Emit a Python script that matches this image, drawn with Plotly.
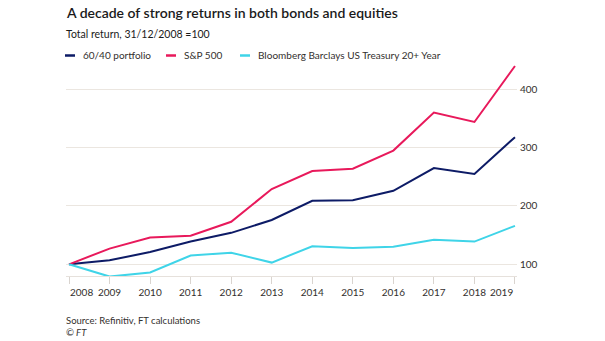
import plotly.graph_objects as go

years = list(range(2008, 2020))
portfolio_60_40 = [100, 107, 121, 139, 154, 176, 209, 210, 226, 265, 255, 318]
sp500 = [100, 127, 146, 149, 173, 229, 260, 264, 295, 360, 344, 440]
treasury_20y = [100, 79, 86, 115, 120, 103, 131, 128, 130, 142, 139, 166]

series_names = ["60/40 portfolio", "S&P 500", "Bloomberg Barclays US Treasury 20+ Year"]
series_values = [portfolio_60_40, sp500, treasury_20y]
series_colors = ["#0d1b66", "#e8195b", "#3fd4e8"]

y_ticks = [100, 200, 300, 400]

FONT = "Lato"
TEXT = "#33302e"

W, H = 605, 341
L, R, T, B = 66, 88, 62, 65
PW, PH = W - L - R, H - T - B

def px_x(px):
    return (px - L) / PW

def px_y(py):
    return (H - B - py) / PH

fig = go.Figure()
for name, vals, col in zip(series_names, series_values, series_colors):
    fig.add_trace(go.Scatter(x=years, y=vals, mode="lines", name=name,
                             line=dict(color=col, width=2), showlegend=False))

ticktext = [str(y) if y not in (years[0], years[-1]) else "" for y in years]

fig.update_layout(
    width=W, height=H,
    margin=dict(l=L, r=R, t=T, b=B),
    paper_bgcolor="white", plot_bgcolor="white",
    font=dict(family=FONT, size=10, color=TEXT),
    xaxis=dict(range=[2007.926, 2019.05], tickvals=years, ticktext=ticktext,
               showgrid=False, zeroline=False, showline=True, linecolor="#e6e1dc",
               linewidth=1, ticks="outside", ticklen=7, tickcolor="#d9d4cf",
               tickfont=dict(size=10, color=TEXT), fixedrange=True),
    yaxis=dict(range=[80, 446.8], tickvals=y_ticks, side="right",
               showgrid=True, gridcolor="#ebe6e0", gridwidth=1, zeroline=False,
               showline=False, ticks="", tickfont=dict(size=10, color=TEXT),
               ticklabelstandoff=2, fixedrange=True),
)

annotations = []
# first/last x tick labels aligned to edges
annotations.append(dict(x=years[0], y=px_y(292), xref="x", yref="paper", text=str(years[0]),
                        showarrow=False, xanchor="left", yanchor="middle", xshift=-1,
                        font=dict(size=10, color=TEXT)))
annotations.append(dict(x=years[-1], y=px_y(292), xref="x", yref="paper", text=str(years[-1]),
                        showarrow=False, xanchor="right", yanchor="middle", xshift=0,
                        font=dict(size=10, color=TEXT)))
# title, subtitle
annotations.append(dict(x=px_x(64), y=px_y(13), xref="paper", yref="paper",
                        text="A decade of strong returns in both bonds and equities",
                        showarrow=False, xanchor="left", yanchor="middle",
                        font=dict(size=14, color="#1a1a1a", weight=600)))
annotations.append(dict(x=px_x(64), y=px_y(34), xref="paper", yref="paper",
                        text="Total return, 31/12/2008 =100",
                        showarrow=False, xanchor="left", yanchor="middle",
                        font=dict(size=10.5, color="#1a1a1a")))
# legend
leg_x = [65, 166, 240]
shapes = []
for name, col, lx in zip(series_names, series_colors, leg_x):
    shapes.append(dict(type="line", xref="paper", yref="paper",
                       x0=px_x(lx), x1=px_x(lx + 10), y0=px_y(55.5), y1=px_y(55.5),
                       line=dict(color=col, width=2.5)))
    annotations.append(dict(x=px_x(lx + 16), y=px_y(55.5), xref="paper", yref="paper",
                            text=name, showarrow=False, xanchor="left", yanchor="middle",
                            font=dict(size=10, color=TEXT)))
# source
annotations.append(dict(x=px_x(64), y=px_y(320.5), xref="paper", yref="paper",
                        text="Source: Refinitiv, FT calculations",
                        showarrow=False, xanchor="left", yanchor="middle",
                        font=dict(size=9.5, color=TEXT)))
annotations.append(dict(x=px_x(64), y=px_y(332.5), xref="paper", yref="paper",
                        text="<i>© FT</i>",
                        showarrow=False, xanchor="left", yanchor="middle",
                        font=dict(size=9.5, color=TEXT)))

fig.update_layout(annotations=annotations, shapes=shapes)
fig.write_html("out.html", config={"displayModeBar": False})
